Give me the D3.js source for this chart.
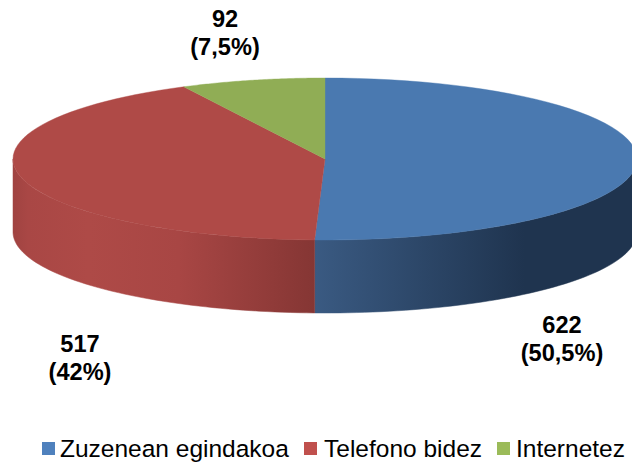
<!DOCTYPE html>
<html><head><meta charset="utf-8">
<script src="https://cdn.jsdelivr.net/npm/d3@7"></script>
<style>html,body{margin:0;padding:0;background:#fff;overflow:hidden}svg{display:block}text{font-family:"Liberation Sans",Arial,sans-serif;fill:#000}</style>
</head><body><svg id="c" width="632" height="463"></svg>
<script>
const categories=["Zuzenean egindakoa","Telefono bidez","Internetez"];
const values=[622,517,92];
const valueLabels=["622","517","92"];
const percentLabels=["(50,5%)","(42%)","(7,5%)"];
const topColors=["#4a79b0","#af4a47","#90ad55"];
const legendColors=["#4f81bd","#c0504d","#9bbb59"];
const wallStops=[
 [[0,"#3a5a82"],[0.65,"#1f344f"],[1,"#1f344f"]],
 [[0,"#a04341"],[0.05,"#a94745"],[0.25,"#ae4a47"],[0.55,"#a84644"],[1,"#853634"]],
 [[0,"#90ad55"],[1,"#90ad55"]]
];
const W=632,H=463,cx=325,cy=159,rx=312,ry=81,depth=73;
const svg=d3.select("#c");
const pie=d3.pie().sort(null)(values);
const px=a=>cx+rx*Math.sin(a), py=a=>cy-ry*Math.cos(a);
const defs=svg.append("defs");
wallStops.forEach((st,i)=>{
  const x0=i===0?315:13,x1=i===0?637:315;
  const g=defs.append("linearGradient").attr("id","w"+i).attr("gradientUnits","userSpaceOnUse")
    .attr("x1",x0).attr("x2",x1).attr("y1",0).attr("y2",0);
  st.forEach(s=>g.append("stop").attr("offset",s[0]).attr("stop-color",s[1]));
});
const samples=(a0,a1)=>d3.range(0,61).map(k=>a0+(a1-a0)*k/60);
// walls: only the front half (angle between PI/2 and 3PI/2) is visible
pie.forEach((d,i)=>{
  const a0=Math.max(d.startAngle,Math.PI/2),a1=Math.min(d.endAngle,Math.PI*1.5);
  if(a1<=a0)return;
  const s=samples(a0,a1);
  const pts=s.map(a=>[px(a),py(a)]).concat(s.slice().reverse().map(a=>[px(a),py(a)+depth]));
  svg.append("path").attr("d",d3.line()(pts)+"Z").attr("fill","url(#w"+i+")")
    .attr("stroke","url(#w"+i+")").attr("stroke-width",0.5);
});
// top faces
pie.forEach((d,i)=>{
  const pts=[[cx,cy]].concat(samples(d.startAngle,d.endAngle).map(a=>[px(a),py(a)]));
  svg.append("path").attr("d",d3.line()(pts)+"Z").attr("fill",topColors[i])
    .attr("stroke",topColors[i]).attr("stroke-width",0.4);
});
// data labels
const labelPos=[[562,333],[80,352],[225,27]];
values.forEach((v,i)=>{
  const t=svg.append("text").attr("text-anchor","middle").attr("font-weight","bold").attr("font-size",23.6);
  t.append("tspan").attr("x",labelPos[i][0]).attr("y",labelPos[i][1]).text(valueLabels[i]);
  t.append("tspan").attr("x",labelPos[i][0]).attr("y",labelPos[i][1]+28).text(percentLabels[i]);
});
// legend
const legendSwatchX=[42,304,497],legendTextX=[60,324,516];
categories.forEach((c,i)=>{
  svg.append("rect").attr("x",legendSwatchX[i]).attr("y",442).attr("width",13).attr("height",13).attr("fill",legendColors[i]);
  svg.append("text").attr("x",legendTextX[i]).attr("y",457).attr("font-size",24.5).text(c);
});
</script></body></html>
